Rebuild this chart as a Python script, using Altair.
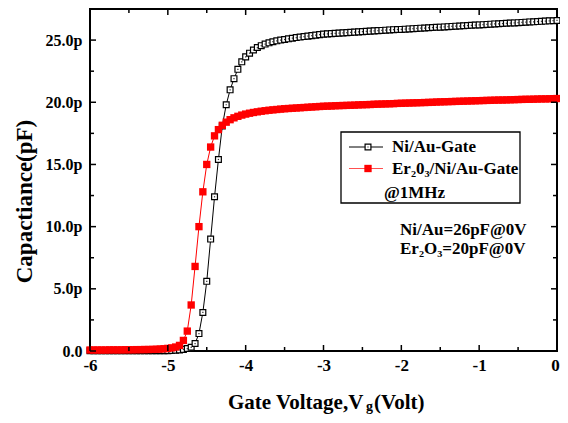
import altair as alt
import pandas as pd

# ---------------- data ----------------
V = [-6.00, -5.95, -5.90, -5.85, -5.80, -5.75, -5.70, -5.65, -5.60, -5.55,
     -5.50, -5.45, -5.40, -5.35, -5.30, -5.25, -5.20, -5.15, -5.10, -5.05,
     -5.00, -4.95, -4.90, -4.85, -4.80, -4.75, -4.70, -4.65, -4.60, -4.55,
     -4.50, -4.45, -4.40, -4.35, -4.30, -4.25, -4.20, -4.15, -4.10, -4.05,
     -4.00, -3.95, -3.90, -3.85, -3.80, -3.75, -3.70, -3.65, -3.60, -3.55,
     -3.50, -3.45, -3.40, -3.35, -3.30, -3.25, -3.20, -3.15, -3.10, -3.05,
     -3.00, -2.95, -2.90, -2.85, -2.80, -2.75, -2.70, -2.65, -2.60, -2.55,
     -2.50, -2.45, -2.40, -2.35, -2.30, -2.25, -2.20, -2.15, -2.10, -2.05,
     -2.00, -1.95, -1.90, -1.85, -1.80, -1.75, -1.70, -1.65, -1.60, -1.55,
     -1.50, -1.45, -1.40, -1.35, -1.30, -1.25, -1.20, -1.15, -1.10, -1.05,
     -1.00, -0.95, -0.90, -0.85, -0.80, -0.75, -0.70, -0.65, -0.60, -0.55,
     -0.50, -0.45, -0.40, -0.35, -0.30, -0.25, -0.20, -0.15, -0.10, -0.05,
     0.00]

C_niau = [0.02, 0.02, 0.02, 0.02, 0.02, 0.02, 0.02, 0.02, 0.02, 0.02,
          0.02, 0.02, 0.02, 0.02, 0.02, 0.02, 0.02, 0.02, 0.02, 0.02,
          0.03, 0.04, 0.06, 0.09, 0.13, 0.20, 0.30, 0.60, 1.40, 3.10,
          5.60, 9.00, 12.40, 15.40, 18.10, 19.80, 21.00, 21.90, 22.65, 23.25,
          23.65, 23.95, 24.20, 24.40, 24.55, 24.68, 24.78, 24.87, 24.94, 25.00,
          25.05, 25.10, 25.15, 25.20, 25.24, 25.28, 25.32, 25.36, 25.40, 25.44,
          25.48, 25.50, 25.52, 25.54, 25.56, 25.58, 25.60, 25.62, 25.64, 25.66,
          25.68, 25.70, 25.72, 25.74, 25.76, 25.78, 25.80, 25.82, 25.84, 25.85,
          25.86, 25.88, 25.90, 25.92, 25.94, 25.96, 25.97, 25.99, 26.01, 26.03,
          26.04, 26.06, 26.08, 26.10, 26.12, 26.13, 26.15, 26.17, 26.19, 26.21,
          26.22, 26.24, 26.26, 26.28, 26.30, 26.31, 26.33, 26.35, 26.37, 26.38,
          26.40, 26.42, 26.44, 26.46, 26.47, 26.49, 26.51, 26.53, 26.55, 26.56,
          26.58]

C_er = [0.08, 0.08, 0.08, 0.08, 0.08, 0.09, 0.09, 0.09, 0.09, 0.10,
        0.10, 0.10, 0.11, 0.11, 0.12, 0.12, 0.13, 0.14, 0.16, 0.18,
        0.21, 0.25, 0.32, 0.45, 0.85, 1.60, 3.70, 6.80, 10.00, 12.80,
        15.00, 16.40, 17.30, 17.80, 18.15, 18.40, 18.60, 18.75, 18.87, 18.97,
        19.05, 19.12, 19.18, 19.23, 19.28, 19.32, 19.36, 19.39, 19.42, 19.45,
        19.48, 19.50, 19.52, 19.54, 19.56, 19.58, 19.60, 19.62, 19.64, 19.66,
        19.68, 19.69, 19.70, 19.72, 19.73, 19.74, 19.75, 19.76, 19.77, 19.79,
        19.80, 19.81, 19.82, 19.84, 19.85, 19.86, 19.87, 19.88, 19.89, 19.91,
        19.92, 19.93, 19.94, 19.95, 19.96, 19.97, 19.98, 19.99, 20.00, 20.02,
        20.03, 20.04, 20.05, 20.06, 20.07, 20.08, 20.09, 20.10, 20.11, 20.12,
        20.13, 20.14, 20.15, 20.16, 20.17, 20.18, 20.18, 20.19, 20.20, 20.21,
        20.22, 20.23, 20.24, 20.24, 20.25, 20.26, 20.27, 20.27, 20.28, 20.29,
        20.30]

x_major = [-6, -5, -4, -3, -2, -1, 0]
x_minor = [-5.5, -4.5, -3.5, -2.5, -1.5, -0.5]
y_major = [0, 5, 10, 15, 20, 25]
y_minor = [2.5, 7.5, 12.5, 17.5, 22.5]

legend_labels = ["Ni/Au-Gate", "Er\u20820\u2083/Ni/Au-Gate", "@1MHz"]
note_labels = ["Ni/Au=26pF@0V", "Er\u2082O\u2083=20pF@0V"]
y_title = "Capactiance(pF)"
x_title_parts = ["Gate Voltage,V", "g", "(Volt)"]

# ---------------- chart ----------------
FONT = "Liberation Serif"
W, H = 467, 342
RED = "#ff0000"

df_ni = pd.DataFrame({"V": V, "C": C_niau})
df_er = pd.DataFrame({"V": V, "C": C_er})
one = pd.DataFrame({"a": [0]})

xs = alt.Scale(domain=[-6, 0], nice=False, zero=False)
ys = alt.Scale(domain=[0, 27.5], nice=False, zero=False)

x_axis = alt.Axis(values=x_major, labelExpr="'' + datum.value", title=None,
                  ticks=False, domain=False, grid=False, labelFont=FONT,
                  labelFontWeight="bold", labelFontSize=17, labelPadding=6,
                  labelOffset={"expr": "datum.value == 0 ? -2 : 0"},
                  labelColor="black", labelFlush=False, labelOverlap=False)
y_axis = alt.Axis(values=y_major,
                  labelExpr="datum.value == 0 ? '0.0' : format(datum.value, '.1f') + 'p'",
                  title=y_title, titleX=-66, titleY=192, titleAngle=270,
                  titleAlign="center", titleBaseline="middle",
                  titleFont=FONT, titleFontWeight="bold", titleFontSize=23,
                  titleColor="black",
                  ticks=False, domain=False, grid=False, labelFont=FONT,
                  labelFontWeight="bold", labelFontSize=16, labelPadding=8,
                  labelColor="black", labelFlush=False, labelOverlap=False)

X = alt.X("V:Q", scale=xs, axis=x_axis)
Y = alt.Y("C:Q", scale=ys, axis=y_axis)

black_line = alt.Chart(df_ni).mark_line(color="black", strokeWidth=1).encode(x=X, y=Y)
black_pts = alt.Chart(df_ni).mark_square(size=34, fill="white", stroke="black",
                                         strokeWidth=1.2, opacity=1, fillOpacity=1).encode(x=X, y=Y)
black_dots = alt.Chart(df_ni).mark_square(size=1.5, color="#333333", opacity=1).encode(x=X, y=Y)
red_line = alt.Chart(df_er).mark_line(color=RED, strokeWidth=1).encode(x=X, y=Y)
red_pts = alt.Chart(df_er).mark_square(size=54, color=RED, opacity=1).encode(x=X, y=Y)

# inward ticks on all four sides
def xticks(vals, length):
    d = pd.DataFrame({"V": vals})
    b = alt.Chart(d).mark_rule(color="black", strokeWidth=1.5).encode(
        x=X, y=alt.value(H), y2=alt.value(H - length))
    t = alt.Chart(d).mark_rule(color="black", strokeWidth=1.5).encode(
        x=X, y=alt.value(0), y2=alt.value(length))
    return [b, t]

def yticks(vals, length):
    d = pd.DataFrame({"C": vals})
    l = alt.Chart(d).mark_rule(color="black", strokeWidth=1.5).encode(
        y=Y, x=alt.value(0), x2=alt.value(length))
    r = alt.Chart(d).mark_rule(color="black", strokeWidth=1.5).encode(
        y=Y, x=alt.value(W), x2=alt.value(W - length))
    return [l, r]

ticks = xticks(x_major, 6) + xticks(x_minor, 4) + yticks(y_major, 6) + yticks(y_minor, 4)

def txt(s, x, y, size=17, align="left", baseline="middle"):
    return alt.Chart(one).mark_text(text=s, font=FONT, fontWeight="bold", fontSize=size,
                                    align=align, baseline=baseline, color="black").encode(
        x=alt.value(x), y=alt.value(y))

# legend box
lx0, lx1, ly0, ly1 = 251, 430, 123, 194
row1, row2 = 138, 159.5
legend = [
    alt.Chart(one).mark_rect(fill="white", stroke="black", strokeWidth=1.3).encode(
        x=alt.value(lx0), x2=alt.value(lx1), y=alt.value(ly0), y2=alt.value(ly1)),
    alt.Chart(one).mark_rule(color="black", strokeWidth=1).encode(
        x=alt.value(259), x2=alt.value(293), y=alt.value(row1)),
    alt.Chart(one).mark_square(size=34, fill="white", stroke="black", strokeWidth=1.2,
                               opacity=1, fillOpacity=1).encode(x=alt.value(278), y=alt.value(row1)),
    alt.Chart(one).mark_square(size=1.5, color="#333333", opacity=1).encode(
        x=alt.value(278), y=alt.value(row1)),
    alt.Chart(one).mark_rule(color="#ff5050", strokeWidth=1).encode(
        x=alt.value(259), x2=alt.value(293), y=alt.value(row2)),
    alt.Chart(one).mark_square(size=54, color=RED, opacity=1).encode(
        x=alt.value(278), y=alt.value(row2)),
    txt(legend_labels[0], 302, row1),
    txt(legend_labels[1], 302, row2),
    txt(legend_labels[2], 294, 184),
]

notes = [txt(note_labels[0], 310, 221), txt(note_labels[1], 310, 240)]

xtitle = [
    txt(x_title_parts[0], 138, 400, size=21, align="left", baseline="alphabetic"),
    txt(x_title_parts[1], 276, 402, size=14, align="left", baseline="alphabetic"),
    txt(x_title_parts[2], 284, 400, size=21, align="left", baseline="alphabetic"),
]

chart = alt.layer(
    black_line, black_pts, black_dots, red_line, red_pts,
    *ticks, *legend, *notes, *xtitle
).properties(
    width=W, height=H,
    padding={"left": 82, "top": 1, "right": 3, "bottom": 64},
    autosize=alt.AutoSizeParams(type="none"),
).configure_view(stroke="black", strokeWidth=2)

chart.save("out.html", embed_options={"renderer": "svg", "actions": False})
